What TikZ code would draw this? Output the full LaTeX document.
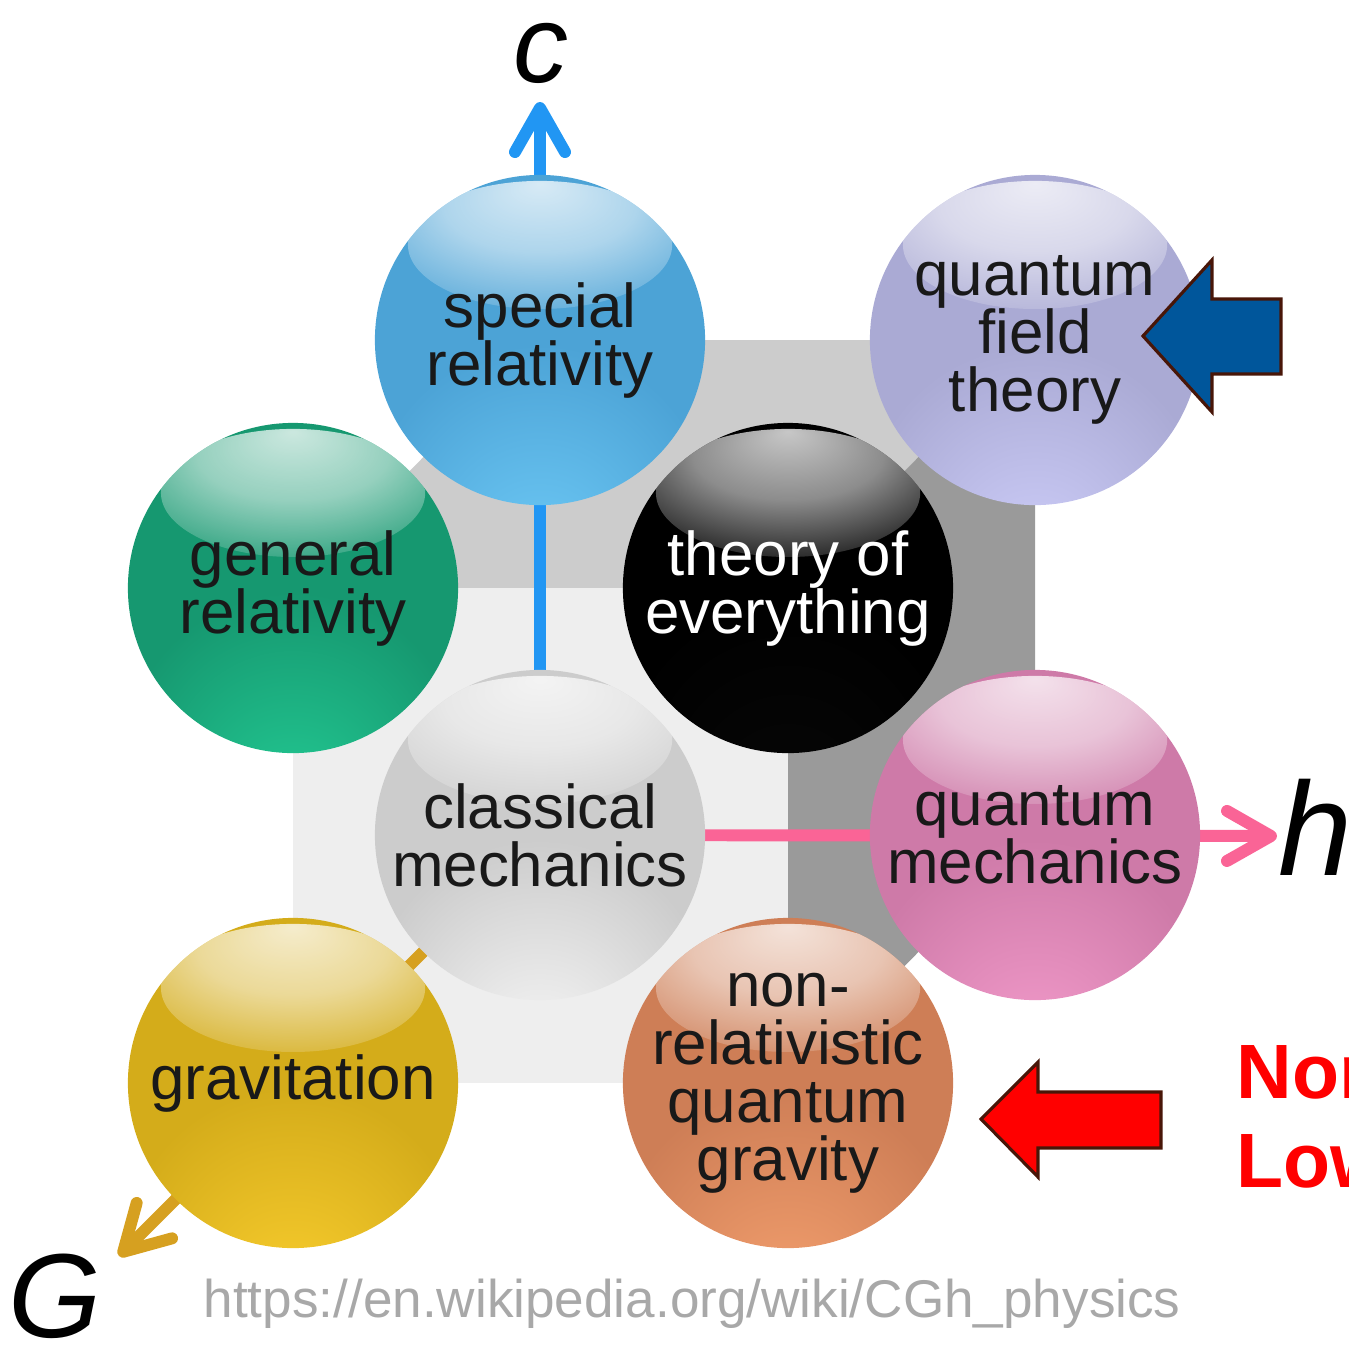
\documentclass[tikz,border=0pt]{standalone}
\usepackage{fontspec}
\setmainfont{Liberation Sans}
\usetikzlibrary{arrows.meta, fadings}

\definecolor{facetop}{RGB}{204,204,204}
\definecolor{faceside}{RGB}{154,154,154}
\definecolor{facefront}{RGB}{238,238,238}
\definecolor{cblue}{RGB}{33,150,243}
\definecolor{hpink}{RGB}{250,100,150}
\definecolor{gorange}{RGB}{214,160,32}
\definecolor{urlgray}{RGB}{168,168,168}
\definecolor{qftblue}{RGB}{0,86,155}
\definecolor{outlinebrown}{RGB}{72,22,8}
% sphere colours: edge / base / glow
\definecolor{sredge}{RGB}{46,112,158}
\definecolor{srbase}{RGB}{76,163,214}
\definecolor{srglow}{RGB}{112,204,248}
\definecolor{qftedge}{RGB}{128,128,172}
\definecolor{qftbase}{RGB}{170,170,212}
\definecolor{qftglow}{RGB}{208,208,252}
\definecolor{gredge}{RGB}{8,100,72}
\definecolor{grbase}{RGB}{22,152,112}
\definecolor{grglow}{RGB}{36,206,150}
\definecolor{toeedge}{RGB}{0,0,0}
\definecolor{toebase}{RGB}{0,0,0}
\definecolor{toeglow}{RGB}{8,8,8}
\definecolor{cmedge}{RGB}{150,150,150}
\definecolor{cmbase}{RGB}{204,204,204}
\definecolor{cmglow}{RGB}{250,250,250}
\definecolor{qmedge}{RGB}{160,80,128}
\definecolor{qmbase}{RGB}{206,122,168}
\definecolor{qmglow}{RGB}{246,158,206}
\definecolor{gravedge}{RGB}{160,124,8}
\definecolor{gravbase}{RGB}{212,172,26}
\definecolor{gravglow}{RGB}{252,208,48}
\definecolor{nrqgedge}{RGB}{156,84,52}
\definecolor{nrqgbase}{RGB}{206,126,86}
\definecolor{nrqgglow}{RGB}{246,162,112}

\pgfdeclareradialshading[sphglow,sphbase]{glossy}{\pgfpoint{0bp}{-36bp}}{%
  color(0bp)=(sphglow); color(26bp)=(sphbase); color(100bp)=(sphbase)}
\pgfdeclareradialshading{rimshade}{\pgfpointorigin}{%
  color(0bp)=(black); color(36bp)=(black); color(50bp)=(white!85!black)}
\pgfdeclarefading{rimfade}{\pgfuseshading{rimshade}}
\pgfdeclareradialshading{glossshade}{\pgfpoint{0bp}{24bp}}{%
  color(0bp)=(white!78!black); color(18bp)=(white!55!black); color(40bp)=(black);
  color(50bp)=(black)}
\pgfdeclarefading{gloss}{\pgfuseshading{glossshade}}

\pgfdeclarelayer{faces}
\pgfdeclarelayer{axes}
\pgfsetlayers{faces,axes,main}

\tikzset{
  sphere/.style n args={3}{circle, minimum size=3.3cm, inner sep=-5mm,
    align=center, font=\fontsize{17.6pt}{16.5pt}\selectfont, text=black!90,
    /utils/exec={\colorlet{sphedge}{#1}\colorlet{sphbase}{#2}\colorlet{sphglow}{#3}},
    shading=glossy,
    path picture={
      \fill[sphedge, path fading=rimfade]
        (path picture bounding box.center) circle (1.65cm);
      \fill[white, path fading=gloss]
        ([yshift=0.95cm]path picture bounding box.center) ellipse (1.32cm and 0.64cm);
    }},
  axisline/.style={line width=3.4pt,
    -{Straight Barb[length=4.4mm, width=5mm, round]}},
  axislabel/.style={inner sep=0pt, font=\fontsize{#1}{#1}\selectfont\itshape},
  blockarrow/.style={draw=outlinebrown, line width=0.9pt, line join=miter},
  redtext/.style={inner sep=0pt, text=red,
    font=\fontsize{21.9pt}{21.9pt}\selectfont\bfseries},
}

\begin{document}
\begin{tikzpicture}[x=0.01cm, y=0.01cm]
  \useasboundingbox (0,0) rectangle (1349,-1356);
  \clip (0,0) rectangle (1349,-1356);

  % spheres
  \node[sphere={sredge}{srbase}{srglow}] (sr) at (540,-340) {special\\relativity};
  \node[sphere={qftedge}{qftbase}{qftglow}] (qft) at (1035,-340) {quantum\\field\\theory};
  \node[sphere={gredge}{grbase}{grglow}] (gr) at (293,-588) {general\\relativity};
  \node[sphere={toeedge}{toebase}{toeglow}, text=white] (toe) at (788,-588) {theory of\\everything};
  \node[sphere={cmedge}{cmbase}{cmglow}] (cm) at (540,-835) {classical\\mechanics};
  \node[sphere={qmedge}{qmbase}{qmglow}] (qm) at (1035,-835) {quantum\\mechanics};
  \node[sphere={gravedge}{gravbase}{gravglow}] (grav) at (293,-1083) {gravitation};
  \node[sphere={nrqgedge}{nrqgbase}{nrqgglow}] (nrqg) at (788,-1083) {non-\\relativistic\\quantum\\gravity};

  \coordinate (ctip) at (540,-102);
  \coordinate (htip) at (1277,-836);
  \coordinate (gtip) at (119,-1256);

  \begin{pgfonlayer}{faces}
    \fill[facetop] (sr.center) -- (qft.center) -- (toe.center) -- (gr.center) -- cycle;
    \fill[faceside] (qft.center) -- (qm.center) -- (nrqg.center) -- (toe.center) -- cycle;
    \fill[facefront] (gr.center) rectangle (nrqg.center);
  \end{pgfonlayer}

  \begin{pgfonlayer}{axes}
    \draw[axisline, cblue] (cm.center) -- (ctip);
    \draw[axisline, hpink] (cm.center) -- (htip);
    \draw[axisline, gorange] (cm.center) -- (gtip);
  \end{pgfonlayer}

  % axis letters
  \node[axislabel=31.3pt, anchor=base] (clabel) at (541,-82) {c};
  \node[axislabel=37.8pt, anchor=base west] (hlabel) at (1278,-875) {h};
  \node[axislabel=34pt, anchor=base west] (glabel) at (8,-1337) {G};

  % pointers
  \draw[blockarrow, fill=qftblue] (1143,-336) -- (1212,-260) -- (1212,-299)
    -- (1281,-299) -- (1281,-374) -- (1212,-374) -- (1212,-412) -- cycle;
  \draw[blockarrow, fill=red] (981,-1119) -- (1038,-1062) -- (1038,-1092)
    -- (1161,-1092) -- (1161,-1148) -- (1038,-1148) -- (1038,-1177) -- cycle;
  \node[redtext, anchor=base west] (non) at (1236,-1098) {Non};
  \node[redtext, anchor=base west] (low) at (1236,-1187) {Low};

  \node[inner sep=0pt, anchor=base west, text=urlgray,
        font=\fontsize{15.1pt}{15.1pt}\selectfont] (url) at (203,-1317)
        {https://en.wikipedia.org/wiki/CGh\_physics};
\end{tikzpicture}
\end{document}
